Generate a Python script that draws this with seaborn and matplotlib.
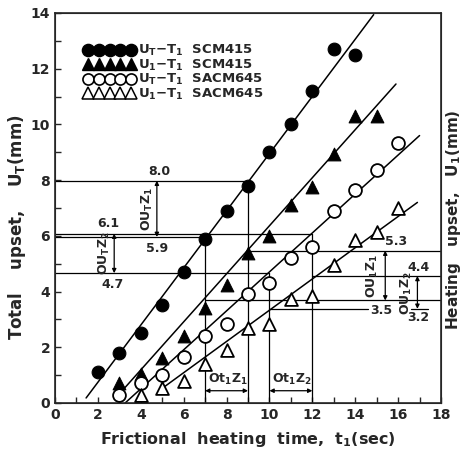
import matplotlib
matplotlib.use("Agg")
import matplotlib.pyplot as plt
from matplotlib.lines import Line2D
from matplotlib.ticker import MultipleLocator
import pandas as pd
import seaborn as sns

sns.set_style("ticks")
plt.rcParams['font.family'] = ['DejaVu Sans']
plt.rcParams['mathtext.default'] = 'regular'

# measured points (t1 in sec, upset in mm)
t_scm_total = [2, 3, 4, 5, 6, 7, 8, 9, 10, 11, 12, 13, 14]
u_scm_total = [1.1, 1.8, 2.5, 3.5, 4.7, 5.9, 6.9, 7.8, 9.0, 10.0, 11.2, 12.7, 12.5]
t_scm_heat = [3, 4, 5, 6, 7, 8, 9, 10, 11, 12, 13, 14, 15]
u_scm_heat = [0.7, 1.05, 1.6, 2.4, 3.4, 4.25, 5.4, 6.0, 7.1, 7.75, 8.95, 10.3, 10.3]
t_sacm_total = [3, 4, 5, 6, 7, 8, 9, 10, 11, 12, 13, 14, 15, 16]
u_sacm_total = [0.3, 0.7, 1.0, 1.65, 2.4, 2.85, 3.9, 4.3, 5.2, 5.6, 6.9, 7.65, 8.35, 9.35]
t_sacm_heat = [4, 5, 6, 7, 8, 9, 10, 11, 12, 13, 14, 15, 16]
u_sacm_heat = [0.3, 0.55, 0.8, 1.4, 1.9, 2.7, 2.85, 3.75, 3.85, 4.95, 5.85, 6.15, 7.0]

# fitted straight lines, end points
fit_scm_total = ([1.45, 14.86], [0.18, 13.94])
fit_scm_heat = ([3.04, 15.9], [0.36, 11.45])
fit_sacm_total = ([3.27, 17.0], [0.0, 9.6])
fit_sacm_heat = ([4.9, 16.9], [0.47, 7.2])

legend_labels = ['U$_T$$-$T$_1$  SCM415', 'U$_1$$-$T$_1$  SCM415',
                 'U$_T$$-$T$_1$  SACM645', 'U$_1$$-$T$_1$  SACM645']

# construction lines for the two heating-time zones
zone_t1 = [7, 9]
zone_t2 = [10, 12]
total_z1 = [5.96, 7.98]
total_z2 = [4.66, 6.08]
heat_z1 = [3.68, 5.47]
heat_z2 = [3.38, 4.56]
total_z1_txt = ['5.9', '8.0']
total_z2_txt = ['4.7', '6.1']
heat_z1_txt = ['3.5', '5.3']
heat_z2_txt = ['3.2', '4.4']

fig = plt.figure(figsize=(4.63, 4.57), dpi=100)
ax = fig.add_axes([0.1188, 0.1182, 0.8337, 0.8534])

lw = 0.9
lc = 'black'

# horizontal / vertical guide lines
ax.plot([0, zone_t1[1]], [total_z1[1]] * 2, color=lc, lw=lw)
ax.plot([0, zone_t1[0]], [total_z1[0]] * 2, color=lc, lw=lw)
ax.plot([0, zone_t2[1]], [total_z2[1]] * 2, color=lc, lw=lw)
ax.plot([0, zone_t2[0]], [total_z2[0]] * 2, color=lc, lw=lw)
ax.plot([zone_t1[1]] * 2, [0, total_z1[1]], color=lc, lw=lw)
ax.plot([zone_t1[0]] * 2, [0, total_z1[0]], color=lc, lw=lw)
ax.plot([zone_t2[1]] * 2, [0, total_z2[1]], color=lc, lw=lw)
ax.plot([zone_t2[0]] * 2, [0, total_z2[0]], color=lc, lw=lw)
ax.plot([zone_t1[1], 18], [heat_z1[1]] * 2, color=lc, lw=lw)
ax.plot([zone_t1[0], 18], [heat_z1[0]] * 2, color=lc, lw=lw)
ax.plot([zone_t2[1], 18], [heat_z2[1]] * 2, color=lc, lw=lw)
ax.plot([zone_t2[0], 14.6], [heat_z2[0]] * 2, color=lc, lw=lw)
ax.plot([16.6, 17.4], [heat_z2[0]] * 2, color=lc, lw=lw)

arrow = dict(arrowstyle='<|-|>', color=lc, lw=lw, mutation_scale=6, shrinkA=0, shrinkB=0)
ax.annotate('', xy=(4.75, total_z1[1]), xytext=(4.75, total_z1[0]), arrowprops=arrow)
ax.annotate('', xy=(2.76, total_z2[1]), xytext=(2.76, total_z2[0]), arrowprops=arrow)
ax.annotate('', xy=(15.4, heat_z1[1]), xytext=(15.4, heat_z1[0]), arrowprops=arrow)
ax.annotate('', xy=(16.9, heat_z2[1]), xytext=(16.9, heat_z2[0]), arrowprops=arrow)
ax.annotate('', xy=(zone_t1[0], 0.44), xytext=(zone_t1[1], 0.44), arrowprops=arrow)
ax.annotate('', xy=(zone_t2[0], 0.44), xytext=(zone_t2[1], 0.44), arrowprops=arrow)

tk = dict(fontsize=9, fontweight='bold', ha='center', va='center')
ax.text(4.85, 8.3, total_z1_txt[1], **tk)
ax.text(4.75, 5.55, total_z1_txt[0], **tk)
ax.text(2.5, 6.45, total_z2_txt[1], **tk)
ax.text(2.7, 4.27, total_z2_txt[0], **tk)
ax.text(15.9, 5.8, heat_z1_txt[1], **tk)
ax.text(15.2, 3.33, heat_z1_txt[0], **tk)
ax.text(16.95, 4.87, heat_z2_txt[1], **tk)
ax.text(16.95, 3.08, heat_z2_txt[0], **tk)
ax.text(4.3, 6.97, 'OU$_T$Z$_1$', rotation=90, **tk)
ax.text(2.3, 5.37, 'OU$_T$Z$_2$', rotation=90, **tk)
ax.text(14.8, 4.55, 'OU$_1$Z$_1$', rotation=90, **tk)
ax.text(16.4, 3.95, 'OU$_1$Z$_2$', rotation=90, **tk)
ax.text(8.05, 0.85, 'Ot$_1$Z$_1$', **tk)
ax.text(11.05, 0.85, 'Ot$_1$Z$_2$', **tk)

# fitted lines
for xs, ys in [fit_scm_total, fit_scm_heat, fit_sacm_total, fit_sacm_heat]:
    sns.lineplot(x=xs, y=ys, color='black', lw=1.1, ax=ax)

# data points
ms = 85
sns.scatterplot(x=t_scm_total, y=u_scm_total, marker='o', s=ms, color='black',
                edgecolor='black', zorder=5, ax=ax)
sns.scatterplot(x=t_scm_heat, y=u_scm_heat, marker='^', s=ms, color='black',
                edgecolor='black', zorder=5, ax=ax)
sns.scatterplot(x=t_sacm_total, y=u_sacm_total, marker='o', s=ms, facecolor='white',
                edgecolor='black', linewidth=1.3, zorder=5, ax=ax)
sns.scatterplot(x=t_sacm_heat, y=u_sacm_heat, marker='^', s=ms, facecolor='white',
                edgecolor='black', linewidth=1.3, zorder=5, ax=ax)

handles = [
    Line2D([], [], ls='none', marker='o', ms=8.8, mfc='black', mec='black'),
    Line2D([], [], ls='none', marker='^', ms=9.2, mfc='black', mec='black'),
    Line2D([], [], ls='none', marker='o', ms=8.0, mfc='white', mec='black', mew=1.2),
    Line2D([], [], ls='none', marker='^', ms=8.6, mfc='white', mec='black', mew=1.1),
]
leg = ax.legend(handles, legend_labels, loc='upper left', bbox_to_anchor=(0.076, 0.922),
                frameon=False, numpoints=5, handlelength=3.85, handletextpad=0.2,
                labelspacing=-0.05, borderpad=0, borderaxespad=0,
                prop=dict(size=9.5, weight='bold'))

ax.set_xlim(0, 18)
ax.set_ylim(0, 14)
ax.xaxis.set_major_locator(MultipleLocator(2))
ax.xaxis.set_minor_locator(MultipleLocator(1))
ax.yaxis.set_major_locator(MultipleLocator(2))
ax.yaxis.set_minor_locator(MultipleLocator(1))
ax.tick_params(which='both', direction='in', length=4, width=1, top=False, right=False,
               labelsize=10)
for lab in ax.get_xticklabels() + ax.get_yticklabels():
    lab.set_fontweight('bold')
for sp in ax.spines.values():
    sp.set_linewidth(1.2)
    sp.set_visible(True)

ax.set_xlabel('Frictional  heating  time,  t$_1$(sec)', fontsize=11.5, fontweight='bold', labelpad=6)
ax.set_ylabel('Total    upset,    U$_T$(mm)', fontsize=12, fontweight='bold')
ax.yaxis.set_label_coords(-0.07, 0.45)
ax2 = ax.twinx()
ax2.set_ylim(0, 14)
ax2.set_yticks([])
ax2.set_ylabel('Heating   upset,   U$_1$(mm)', fontsize=11, fontweight='bold')
ax2.yaxis.set_label_coords(1.008, 0.47)

fig.savefig('out.png', dpi=100)
